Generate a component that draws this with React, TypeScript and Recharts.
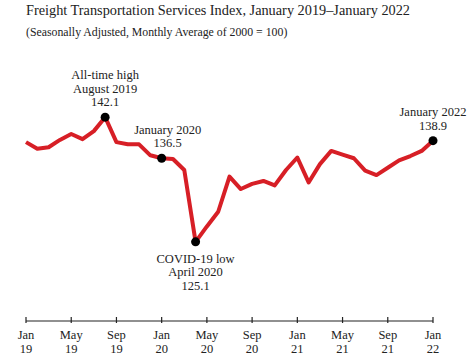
import { LineChart, Line, XAxis, YAxis } from "recharts";

const months = [
  "Jan 19", "Feb 19", "Mar 19", "Apr 19", "May 19", "Jun 19", "Jul 19", "Aug 19", "Sep 19", "Oct 19", "Nov 19", "Dec 19",
  "Jan 20", "Feb 20", "Mar 20", "Apr 20", "May 20", "Jun 20", "Jul 20", "Aug 20", "Sep 20", "Oct 20", "Nov 20", "Dec 20",
  "Jan 21", "Feb 21", "Mar 21", "Apr 21", "May 21", "Jun 21", "Jul 21", "Aug 21", "Sep 21", "Oct 21", "Nov 21", "Dec 21",
  "Jan 22",
];

const tsi = [
  138.7, 137.8, 138.0, 139.0, 139.8, 139.1, 140.2, 142.1, 138.7, 138.4, 138.4, 136.9,
  136.5, 136.4, 134.9, 125.1, 127.2, 129.2, 134.0, 132.3, 133.0, 133.4, 132.8, 134.9,
  136.6, 133.2, 135.7, 137.5, 137.0, 136.5, 134.8, 134.2, 135.2, 136.2, 136.8, 137.5,
  138.9,
];

const tickMonths = ["Jan 19", "May 19", "Sep 19", "Jan 20", "May 20", "Sep 20", "Jan 21", "May 21", "Sep 21", "Jan 22"];

// index -> label lines, "above" or "below" the dot
const notes: { i: number; lines: string[]; below?: boolean; dx?: number }[] = [
  { i: 7, lines: ["All-time high", "August 2019", "142.1"] },
  { i: 12, lines: ["January 2020", "136.5"], dx: 6 },
  { i: 15, lines: ["COVID-19 low", "April 2020", "125.1"], below: true },
  { i: 36, lines: ["January 2022", "138.9"] },
];

const rows = months.map((m, i) => ({ m, v: tsi[i] }));

const FONT = "'Liberation Serif', 'Times New Roman', serif";
const INK = "#222";

function Tick(props: any) {
  const { x, y, payload } = props;
  const [mon, yr] = String(payload.value).split(" ");
  return (
    <g>
      <line x1={x} x2={x} y1={y - 6} y2={y} stroke={INK} strokeWidth={1.2} />
      <text x={x} y={y + 16} textAnchor="middle" fontSize={12.5} fill={INK} fontFamily={FONT}>{mon}</text>
      <text x={x} y={y + 30} textAnchor="middle" fontSize={12.5} fill={INK} fontFamily={FONT}>{yr}</text>
    </g>
  );
}

function Dot(props: any) {
  const { cx, cy, index } = props;
  const n = notes.find((d) => d.i === index);
  if (!n) return <g key={index} />;
  const lh = 13.5;
  const tx = cx + (n.dx ?? 0);
  return (
    <g key={index}>
      <circle cx={cx} cy={cy} r={4.5} fill="#000" />
      {n.lines.map((t, k) => {
        const ty = n.below ? cy + 21 + k * lh : cy - 11 - (n.lines.length - 1 - k) * lh;
        return (
          <text key={k} x={tx} y={ty} textAnchor="middle" fontSize={12.5} fill={INK} fontFamily={FONT}>{t}</text>
        );
      })}
    </g>
  );
}

export default function App() {
  return (
    <div style={{ position: "absolute", left: 0, top: 0, width: 474, height: 355, background: "#fff" }}>
      <div style={{ position: "absolute", left: 26, top: 2, fontFamily: FONT, fontSize: 14.3, color: INK, whiteSpace: "nowrap" }}>
        Freight Transportation Services Index, January 2019–January 2022
      </div>
      <div style={{ position: "absolute", left: 26, top: 25, fontFamily: FONT, fontSize: 11.8, color: INK, whiteSpace: "nowrap" }}>
        (Seasonally Adjusted, Monthly Average of 2000 = 100)
      </div>
      <LineChart width={474} height={355} data={rows} margin={{ top: 60, right: 41, bottom: 0, left: 26 }}>
        <XAxis
          dataKey="m"
          ticks={tickMonths}
          interval={0}
          tickSize={0}
          tick={<Tick />}
          axisLine={{ stroke: INK, strokeWidth: 1.2 }}
          height={34}
        />
        <YAxis hide domain={[114.3, 149.9]} />
        <Line
          type="linear"
          dataKey="v"
          stroke="#d71f26"
          strokeWidth={4}
          strokeLinejoin="round"
          dot={<Dot />}
          activeDot={false}
          isAnimationActive={false}
        />
      </LineChart>
    </div>
  );
}
